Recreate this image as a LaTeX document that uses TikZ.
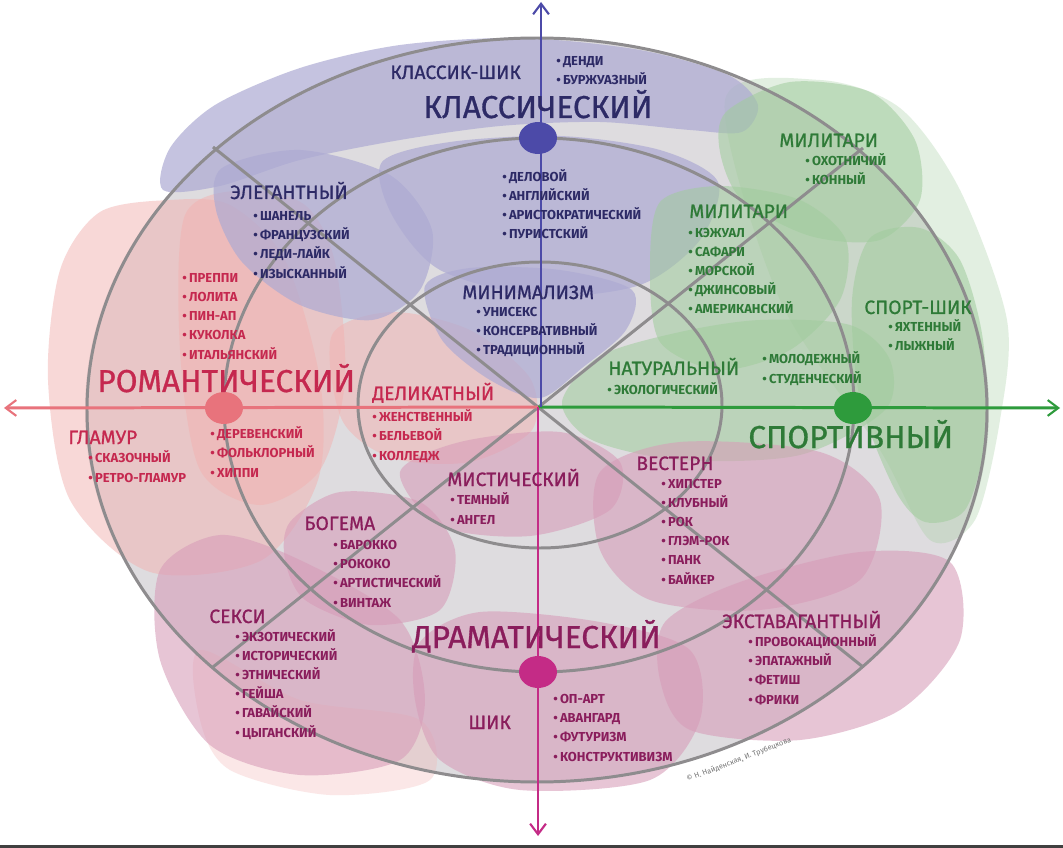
\documentclass[tikz,border=0pt]{standalone}
\usepackage{fontspec}
\setmainfont{Fira Sans}
\newfontfamily\fmed{Fira Sans}[FakeBold=0.9]
\usetikzlibrary{arrows.meta,shapes.geometric}
\definecolor{bgin}{HTML}{DEDCDF}
\definecolor{ringc}{HTML}{8E8C8E}
\definecolor{lavc}{HTML}{ADAAD3}
\definecolor{grnc}{HTML}{A0CC9C}
\definecolor{pnkc}{HTML}{F2B2B0}
\definecolor{mauc}{HTML}{D79CB8}
\definecolor{tcl}{HTML}{2D2A66}
\definecolor{tsp}{HTML}{2E7A37}
\definecolor{trm}{HTML}{C5284F}
\definecolor{tdr}{HTML}{8A1D5C}
\definecolor{axb}{HTML}{4C4AA8}
\definecolor{axm}{HTML}{C42B86}
\definecolor{axp}{HTML}{E8737C}
\definecolor{axg}{HTML}{2E9B3C}
\newcommand{\itm}{\textbullet\,}
\begin{document}
\begin{tikzpicture}[x=0.02cm,y=-0.02cm,
  lst/.style={align=left, anchor=base west, inner sep=0pt, font=\bfseries\fontsize{7.4}{10.9}\selectfont},
  sub/.style={anchor=base west, inner sep=0pt, font=\fmed\fontsize{11}{12}\selectfont},
  big/.style={anchor=base west, inner sep=0pt, font=\fmed\fontsize{18}{20}\selectfont},
  ring/.style={draw=ringc, line width=1.7pt},
  lav/.style={fill=lavc, fill opacity=0.7},
  grn/.style={fill=grnc, fill opacity=0.55},
  pnk/.style={fill=pnkc, fill opacity=0.5},
  mau/.style={fill=mauc, fill opacity=0.58},
  axis/.style={line width=1.7pt, -{Straight Barb[length=6pt,width=9pt,line width=1.2pt]}},
  dot/.style={ellipse, minimum width=0.76cm, minimum height=0.64cm, inner sep=0pt}]
\useasboundingbox (0,0) rectangle (1063,848);
\fill[white] (0,0) rectangle (1063,848);
% base
\fill[bgin] (537,410) ellipse [x radius=452, y radius=372];
% faint envelopes
\fill[grnc, fill opacity=0.3] plot[smooth cycle] coordinates {(725,100) (820,80) (900,108) (960,190) (1007,320) (1000,420) (975,520) (930,540) (880,450) (780,300)};
\fill[pnkc, fill opacity=0.3] plot[smooth cycle] coordinates {(200,650) (300,700) (420,720) (430,780) (330,795) (230,770) (200,720)};
% pink blobs
\fill[pnk] plot[smooth cycle] coordinates {(100,212) (170,200) (230,205) (285,260) (320,380) (318,480) (262,560) (150,572) (70,500) (48,380) (60,270)};
\fill[pnk] plot[smooth cycle] coordinates {(185,215) (245,190) (305,205) (335,262) (345,380) (320,470) (260,505) (200,470) (180,350)};
\fill[pnk] plot[smooth cycle] coordinates {(332,335) (392,312) (470,330) (530,378) (532,430) (470,462) (392,458) (342,420)};
% lavender blobs
\fill[lav] plot[smooth cycle] coordinates {(163,190) (170,148) (215,105) (300,68) (400,45) (520,38) (640,50) (728,75) (758,105) (742,132) (690,130) (600,122) (500,126) (400,140) (300,160) (220,186)};
\fill[lav] plot[smooth cycle] coordinates {(222,168) (300,150) (390,175) (432,230) (420,290) (372,320) (300,305) (242,262) (216,210)};
\fill[lav] plot[smooth cycle] coordinates {(382,162) (450,142) (560,136) (660,150) (718,182) (700,240) (640,285) (540,296) (440,270) (392,215)};
\fill[lav] plot[smooth cycle] coordinates {(425,286) (470,268) (560,270) (632,290) (626,330) (582,368) (540,398) (490,380) (442,340)};
% green blobs
\fill[grn] plot[smooth cycle] coordinates {(726,112) (790,82) (870,92) (915,140) (920,200) (880,240) (810,236) (742,200) (720,152)};
\fill[grn] plot[smooth cycle] coordinates {(660,202) (720,186) (800,200) (846,240) (840,300) (790,350) (720,370) (660,342) (650,270)};
\fill[grn] plot[smooth cycle] coordinates {(870,238) (920,228) (960,260) (983,340) (985,440) (965,510) (925,522) (895,490) (860,400) (852,300)};
\fill[grn] plot[smooth cycle] coordinates {(562,402) (600,356) (680,332) (760,320) (850,325) (890,360) (885,410) (800,455) (680,460) (592,440)};
% mauve blobs
\fill[mau] plot[smooth cycle] coordinates {(400,472) (460,442) (560,432) (620,462) (610,510) (530,536) (440,526)};
\fill[mau] plot[smooth cycle] coordinates {(290,522) (340,492) (420,502) (455,550) (440,610) (370,625) (305,600) (285,560)};
\fill[mau] plot[smooth cycle] coordinates {(600,472) (680,442) (820,452) (880,500) (860,580) (760,610) (650,600) (600,550)};
\fill[mau] plot[smooth cycle] coordinates {(160,570) (220,535) (300,560) (400,620) (425,700) (400,760) (300,775) (210,745) (160,660)};
\fill[mau] plot[smooth cycle] coordinates {(420,642) (480,612) (600,622) (690,650) (700,720) (650,780) (520,790) (440,760) (415,700)};
\fill[mau] plot[smooth cycle] coordinates {(665,622) (740,582) (860,552) (950,562) (960,640) (900,710) (800,740) (690,730) (660,680)};
% rings and diagonals
\coordinate (c) at (538,407);
\coordinate (d1) at (213,147);
\coordinate (d2) at (863,148);
\coordinate (d3) at (213,667);
\coordinate (d4) at (863,667);
\draw[ring] (537,410) ellipse [x radius=450, y radius=372];
\draw[ring] (539,405) ellipse [x radius=315, y radius=267];
\draw[ring] (540,405) ellipse [x radius=182, y radius=143];
\draw[ring] (d1) -- (d4);
\draw[ring] (d2) -- (d3);
% axes
\coordinate (aT) at (541,2);
\coordinate (aB) at (538,836);
\coordinate (aL) at (4,408);
\coordinate (aR) at (1060,408);
\draw[axis, axp] (c) -- (aL);
\draw[axis, axg] (c) -- (aR);
\draw[axis, axm] (538,407) -- (aB);
\draw[axis, axb] (541,407) -- (aT);
% dots
\node[dot, fill=axb] (dB) at (538,138) {};
\node[dot, fill=axp] (dP) at (224,408) {};
\node[dot, fill=axg] (dG) at (853,408) {};
\node[dot, fill=axm] (dM) at (538,672) {};
% classic texts
\node[sub, text=tcl] (tClChic) at (390,79) {КЛАССИК-ШИК};
\node[lst, text=tcl] (lDendi) at (556,85) {\itm ДЕНДИ\\\itm БУРЖУАЗНЫЙ};
\node[big, text=tcl] (tClassic) at (423,118) {КЛАССИЧЕСКИЙ};
\node[lst, text=tcl] (lDelovoy) at (502,239) {\itm ДЕЛОВОЙ\\\itm АНГЛИЙСКИЙ\\\itm АРИСТОКРАТИЧЕСКИЙ\\\itm ПУРИСТСКИЙ};
\node[sub, text=tcl] (tEleg) at (230,199) {ЭЛЕГАНТНЫЙ};
\node[lst, text=tcl] (lEleg) at (253,278) {\itm ШАНЕЛЬ\\\itm ФРАНЦУЗСКИЙ\\\itm ЛЕДИ-ЛАЙК\\\itm ИЗЫСКАННЫЙ};
\node[sub, text=tcl] (tMin) at (462,299) {МИНИМАЛИЗМ};
\node[lst, text=tcl] (lMin) at (476,355) {\itm УНИСЕКС\\\itm КОНСЕРВАТИВНЫЙ\\\itm ТРАДИЦИОННЫЙ};
% sport texts
\node[sub, text=tsp] (tMil1) at (779,147) {МИЛИТАРИ};
\node[lst, text=tsp] (lMil1) at (805,185) {\itm ОХОТНИЧИЙ\\\itm КОННЫЙ};
\node[sub, text=tsp] (tMil2) at (689,218) {МИЛИТАРИ};
\node[lst, text=tsp] (lMil2) at (688,314) {\itm КЭЖУАЛ\\\itm САФАРИ\\\itm МОРСКОЙ\\\itm ДЖИНСОВЫЙ\\\itm АМЕРИКАНСКИЙ};
\node[sub, text=tsp] (tSpCh) at (864,314) {СПОРТ-ШИК};
\node[lst, text=tsp] (lSpCh) at (888,351) {\itm ЯХТЕННЫЙ\\\itm ЛЫЖНЫЙ};
\node[sub, text=tsp] (tNat) at (608,375) {НАТУРАЛЬНЫЙ};
\node[lst, text=tsp] (lNat) at (607,395) {\itm ЭКОЛОГИЧЕСКИЙ};
\node[lst, text=tsp] (lYouth) at (762,383) {\itm МОЛОДЕЖНЫЙ\\\itm СТУДЕНЧЕСКИЙ};
\node[big, text=tsp] (tSport) at (748,448) {СПОРТИВНЫЙ};
% romantic texts
\node[lst, text=trm] (lPrep) at (182,359) {\itm ПРЕППИ\\\itm ЛОЛИТА\\\itm ПИН-АП\\\itm КУКОЛКА\\\itm ИТАЛЬЯНСКИЙ};
\node[big, text=trm] (tRom) at (97,392) {РОМАНТИЧЕСКИЙ};
\node[sub, text=trm] (tGlam) at (68,444) {ГЛАМУР};
\node[lst, text=trm] (lGlam) at (88,482) {\itm СКАЗОЧНЫЙ\\\itm РЕТРО-ГЛАМУР};
\node[lst, text=trm] (lFolk) at (210,477) {\itm ДЕРЕВЕНСКИЙ\\\itm ФОЛЬКЛОРНЫЙ\\\itm ХИППИ};
\node[sub, text=trm] (tDel) at (372,400) {ДЕЛИКАТНЫЙ};
\node[lst, text=trm] (lDel) at (372,460) {\itm ЖЕНСТВЕННЫЙ\\\itm БЕЛЬЕВОЙ\\\itm КОЛЛЕДЖ};
% dramatic texts
\node[sub, text=tdr] (tMys) at (447,486) {МИСТИЧЕСКИЙ};
\node[lst, text=tdr] (lMys) at (450,524) {\itm ТЕМНЫЙ\\\itm АНГЕЛ};
\node[sub, text=tdr] (tWest) at (636,470) {ВЕСТЕРН};
\node[lst, text=tdr] (lWest) at (661,584) {\itm ХИПСТЕР\\\itm КЛУБНЫЙ\\\itm РОК\\\itm ГЛЭМ-РОК\\\itm ПАНК\\\itm БАЙКЕР};
\node[sub, text=tdr] (tBoh) at (304,530) {БОГЕМА};
\node[lst, text=tdr] (lBoh) at (333,607) {\itm БАРОККО\\\itm РОКОКО\\\itm АРТИСТИЧЕСКИЙ\\\itm ВИНТАЖ};
\node[sub, text=tdr] (tSexy) at (209,623) {СЕКСИ};
\node[lst, text=tdr] (lSexy) at (235,737) {\itm ЭКЗОТИЧЕСКИЙ\\\itm ИСТОРИЧЕСКИЙ\\\itm ЭТНИЧЕСКИЙ\\\itm ГЕЙША\\\itm ГАВАЙСКИЙ\\\itm ЦЫГАНСКИЙ};
\node[big, text=tdr] (tDram) at (412,648) {ДРАМАТИЧЕСКИЙ};
\node[sub, text=tdr] (tExt) at (722,628) {ЭКСТАВАГАНТНЫЙ};
\node[lst, text=tdr] (lExt) at (748,704) {\itm ПРОВОКАЦИОННЫЙ\\\itm ЭПАТАЖНЫЙ\\\itm ФЕТИШ\\\itm ФРИКИ};
\node[sub, text=tdr] (tChic) at (468,729) {ШИК};
\node[lst, text=tdr] (lChic) at (553,761) {\itm ОП-АРТ\\\itm АВАНГАРД\\\itm ФУТУРИЗМ\\\itm КОНСТРУКТИВИЗМ};
% copyright
\node[text=black!55, font=\fontsize{4.2}{5}\selectfont, rotate=21, inner sep=0pt] (copy) at (739,760) {© Н. Найденская, И. Трубецкова};
\fill[black!75] (0,845) rectangle (1063,848);
\end{tikzpicture}
\end{document}
